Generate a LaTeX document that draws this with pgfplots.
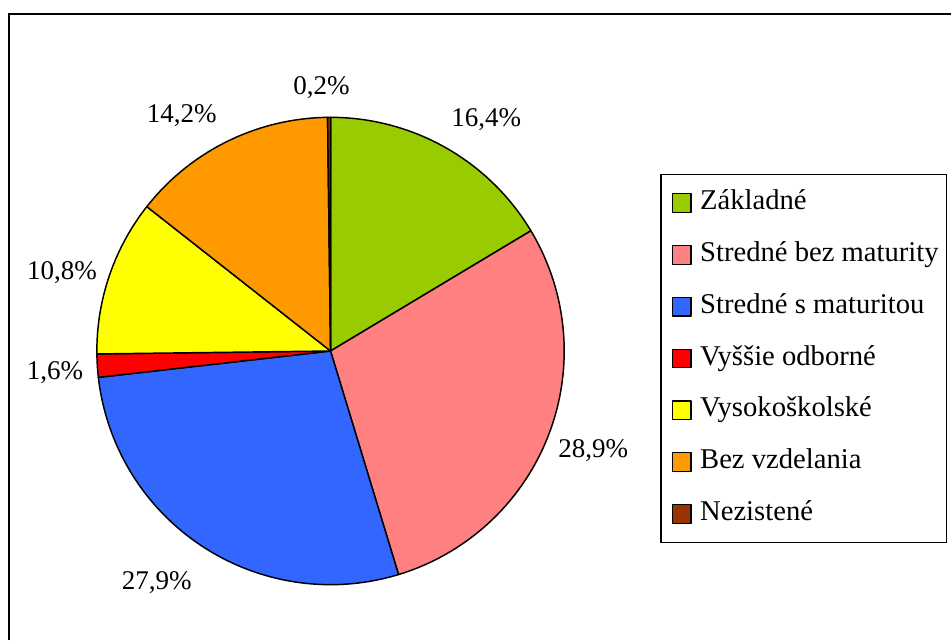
\documentclass[border=0pt]{standalone}
\usepackage{fontspec}
\setmainfont{Liberation Serif}
\usepackage{pgfplots}
\pgfplotsset{compat=1.18}

\definecolor{cZak}{HTML}{99CC00}
\definecolor{cSbm}{HTML}{FF8080}
\definecolor{cSsm}{HTML}{3366FF}
\definecolor{cVyo}{HTML}{FF0000}
\definecolor{cVys}{HTML}{FFFF00}
\definecolor{cBez}{HTML}{FF9900}
\definecolor{cNez}{HTML}{993300}

% pie geometry in pixel units of the reference
\def\cx{331}
\def\cy{289.5}
\def\rr{234}
\newcommand{\lbl}{\fontsize{20.3}{24}\selectfont}

\begin{document}
\begin{tikzpicture}
\begin{axis}[
    width=714pt, height=480.75pt, scale only axis,
    xmin=0, xmax=952, ymin=0, ymax=641,
    hide axis, clip=false,
    samples=80,
    every axis plot/.append style={draw=black, line width=1.1pt, line join=round},
    legend image code/.code={%
        \path (0pt,0pt);
        \draw[#1, draw=black, line width=1pt] (4pt,-7pt) rectangle (18pt,7pt);},
    legend style={
        at={(axis cs:661,467)}, anchor=north west,
        draw=black, line width=1.1pt,
        font=\fontsize{21.5}{25}\selectfont,
        inner xsep=4pt, inner ysep=9.5pt,
        row sep=14.9pt,
        nodes={text height=15pt, text depth=5pt},
        /tikz/every odd column/.append style={column sep=4.5pt},
    },
    legend cell align=left,
]
\path (axis cs:0,0) rectangle (axis cs:952,641);

% slices: domain = cumulative percentages, clockwise from 12 o'clock
\addplot[fill=cZak, domain=0:16.4]
    ({\cx+\rr*cos(90-3.6*x)},{\cy+\rr*sin(90-3.6*x)}) -- (axis cs:\cx,\cy) -- cycle;
\addlegendentry{Základné}
\addplot[fill=cSbm, domain=16.4:45.3]
    ({\cx+\rr*cos(90-3.6*x)},{\cy+\rr*sin(90-3.6*x)}) -- (axis cs:\cx,\cy) -- cycle;
\addlegendentry{Stredné bez maturity}
\addplot[fill=cSsm, domain=45.3:73.2]
    ({\cx+\rr*cos(90-3.6*x)},{\cy+\rr*sin(90-3.6*x)}) -- (axis cs:\cx,\cy) -- cycle;
\addlegendentry{Stredné s maturitou}
\addplot[fill=cVyo, domain=73.2:74.8, samples=8]
    ({\cx+\rr*cos(90-3.6*x)},{\cy+\rr*sin(90-3.6*x)}) -- (axis cs:\cx,\cy) -- cycle;
\addlegendentry{Vyššie odborné}
\addplot[fill=cVys, domain=74.8:85.6]
    ({\cx+\rr*cos(90-3.6*x)},{\cy+\rr*sin(90-3.6*x)}) -- (axis cs:\cx,\cy) -- cycle;
\addlegendentry{Vysokoškolské}
\addplot[fill=cBez, domain=85.6:99.8]
    ({\cx+\rr*cos(90-3.6*x)},{\cy+\rr*sin(90-3.6*x)}) -- (axis cs:\cx,\cy) -- cycle;
\addlegendentry{Bez vzdelania}
\addplot[fill=cNez, domain=99.8:100, samples=3]
    ({\cx+\rr*cos(90-3.6*x)},{\cy+\rr*sin(90-3.6*x)}) -- (axis cs:\cx,\cy) -- cycle;
\addlegendentry{Nezistené}

% percentage labels
\node[font=\lbl, anchor=base] at (axis cs:487,514) {16,4\%};
\node[font=\lbl, anchor=base] at (axis cs:594,183) {28,9\%};
\node[font=\lbl, anchor=base] at (axis cs:157,51) {27,9\%};
\node[font=\lbl, anchor=base] at (axis cs:55,261) {1,6\%};
\node[font=\lbl, anchor=base] at (axis cs:62,361) {10,8\%};
\node[font=\lbl, anchor=base] at (axis cs:182,518) {14,2\%};
\node[font=\lbl, anchor=base] at (axis cs:322,546) {0,2\%};

% outer frame (only top and left visible)
\draw[line width=2pt] (axis cs:9,0) -- (axis cs:9,627) -- (axis cs:952,627);
\end{axis}
\end{tikzpicture}
\end{document}
